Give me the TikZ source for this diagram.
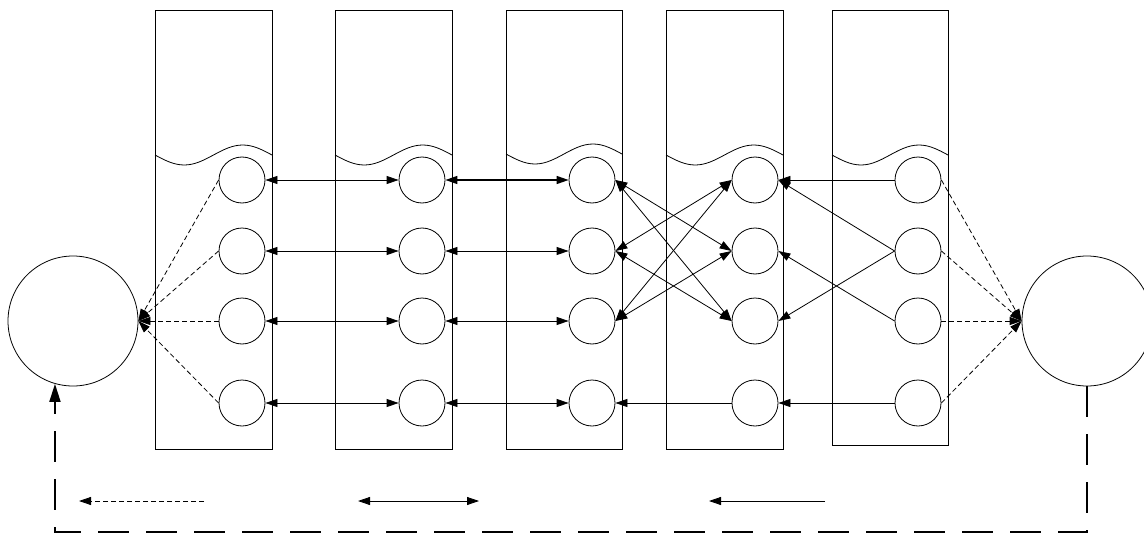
\documentclass[tikz,border=0pt]{standalone}
\usepackage{tikz}
\usetikzlibrary{arrows.meta}

\tikzset{
  col/.style={draw, line width=0.8pt},
  cell/.style={circle, draw, minimum size=46pt, inner sep=0pt, line width=0.8pt},
  pool/.style={circle, draw, minimum size=130pt, inner sep=0pt, line width=0.8pt},
  link/.style={line width=0.8pt},
  feed/.style={line width=0.8pt, dash pattern=on 5pt off 3pt},
  back/.style={line width=1.8pt, dash pattern=on 31pt off 17pt, -{Triangle[length=18pt,width=11pt]}}
}

\begin{document}
\begin{tikzpicture}[x=1pt, y=-1pt, >={Triangle[length=12pt,width=8pt]}]
\useasboundingbox (0,0) rectangle (1144,535);

% columns with wavy top
\draw[col] (155,10) rectangle (272,449);
\draw[col] (155,155) sin (184.25,165) cos (213.5,155) sin (242.75,145) cos (272,155);
\draw[col] (335,10) rectangle (452,449);
\draw[col] (335,155) sin (364.25,165) cos (393.5,155) sin (422.75,145) cos (452,155);
\draw[col] (506,10) rectangle (622,449);
\draw[col] (506,154) sin (535,164) cos (564,154) sin (593,144) cos (622,154);
\draw[col] (666,10) rectangle (783,449);
\draw[col] (666,155) sin (695.25,165) cos (724.5,155) sin (753.75,145) cos (783,155);
\draw[col] (832,10) rectangle (948,445);
\draw[col] (832,155) sin (861,165) cos (890,155) sin (919,145) cos (948,155);

% cells
\node[cell] (A1) at (242,180) {}; \node[cell] (A2) at (242,251) {};
\node[cell] (A3) at (242,321) {}; \node[cell] (A4) at (242,403) {};
\node[cell] (B1) at (422,180) {}; \node[cell] (B2) at (422,251) {};
\node[cell] (B3) at (422,321) {}; \node[cell] (B4) at (422,403) {};
\node[cell] (C1) at (592,180) {}; \node[cell] (C2) at (592,251) {};
\node[cell] (C3) at (592,321) {}; \node[cell] (C4) at (592,403) {};
\node[cell] (D1) at (755,180) {}; \node[cell] (D2) at (755,251) {};
\node[cell] (D3) at (755,321) {}; \node[cell] (D4) at (755,403) {};
\node[cell] (E1) at (918,180) {}; \node[cell] (E2) at (918,251) {};
\node[cell] (E3) at (918,321) {}; \node[cell] (E4) at (918,403) {};

\node[pool] (PL) at (73,321) {};
\node[pool] (PR) at (1087,321) {};

% links
\draw[link,<->] (A1) -- (B1); \draw[link,<->] (A2) -- (B2);
\draw[link,<->] (A3) -- (B3); \draw[link,<->] (A4) -- (B4);
\draw[link,<->,line width=1.5pt] (B1) -- (C1); \draw[link,<->] (B2) -- (C2);
\draw[link,<->] (B3) -- (C3); \draw[link,<->] (B4) -- (C4);
\draw[link,<->] (C1.east) -- (D2.west); \draw[link,<->] (C1.east) -- (D3.west);
\draw[link,<->] (C2.east) -- (D1.west); \draw[link,<->] (C2.east) -- (D3.west);
\draw[link,<->] (C3.east) -- (D1.west); \draw[link,<->] (C3.east) -- (D2.west);
\draw[link,->] (D4) -- (C4);
\draw[link,->] (E1) -- (D1);
\draw[link,->] (E2.west) -- (D1.east); \draw[link,->] (E2.west) -- (D3.east);
\draw[link,->] (E3.west) -- (D2.east);
\draw[link,->] (E4) -- (D4);

% feeds into the pools
\draw[feed,->] (A1.west) -- (PL.east); \draw[feed,->] (A2.west) -- (PL.east);
\draw[feed,->] (A3.west) -- (PL.east); \draw[feed,->] (A4.west) -- (PL.east);
\draw[feed,->] (E1.east) -- (PR.west); \draw[feed,->] (E2.east) -- (PR.west);
\draw[feed,->] (E3.east) -- (PR.west); \draw[feed,->] (E4.east) -- (PR.west);

% return path
\coordinate (base) at (0,532);
\draw[back] (PR.south) -- (PR.south |- base) -| (PL.-106);

% key
\coordinate (k1) at (204,501); \coordinate (k2) at (79,501);
\coordinate (k3) at (358,501); \coordinate (k4) at (479,501);
\coordinate (k5) at (825,501); \coordinate (k6) at (709,501);
\draw[feed,->] (k1) -- (k2);
\draw[link,<->] (k3) -- (k4);
\draw[link,->] (k5) -- (k6);

\end{tikzpicture}
\end{document}
